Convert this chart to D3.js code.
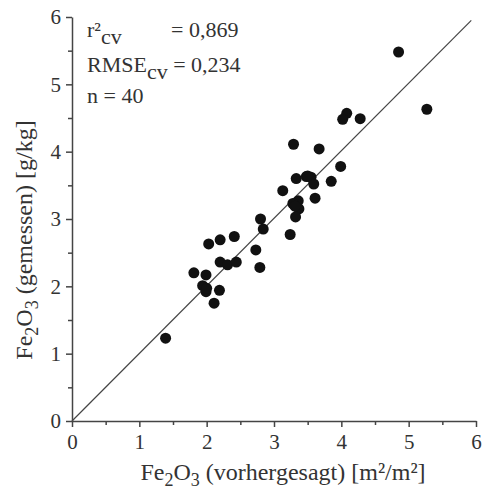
<!DOCTYPE html>
<html>
<head>
<meta charset="utf-8">
<script src="https://cdn.jsdelivr.net/npm/d3@7"></script>
<style>
  body { margin: 0; background: #fff; }
  text { font-family: "Liberation Serif", "DejaVu Serif", serif; fill: #333; }
</style>
</head>
<body>
<script>
// predicted vs measured Fe2O3
var predicted = [4.85, 5.27, 4.08, 4.02, 4.28, 3.29, 3.67, 3.99, 3.33, 3.48, 3.55, 3.59,
  3.85, 3.13, 3.61, 3.36, 3.28, 3.37, 3.32, 2.80, 2.84, 3.24, 2.03, 2.20, 2.41, 2.73,
  2.20, 2.31, 2.44, 2.79, 1.81, 1.99, 1.94, 1.99, 2.19, 2.11, 1.39, 3.31, 3.50, 2.00];
var measured = [5.48, 4.63, 4.57, 4.48, 4.49, 4.11, 4.04, 3.78, 3.60, 3.63, 3.62, 3.52,
  3.56, 3.42, 3.31, 3.27, 3.23, 3.15, 3.03, 3.00, 2.85, 2.77, 2.63, 2.69, 2.74, 2.54,
  2.36, 2.32, 2.36, 2.28, 2.20, 2.17, 2.01, 1.92, 1.94, 1.75, 1.23, 3.19, 3.64, 1.97];
var majorTicks = [0, 1, 2, 3, 4, 5, 6];
var minorTicks = [0.5, 1.5, 2.5, 3.5, 4.5, 5.5];

var margin = {left: 72, right: 8, top: 17, bottom: 71},
    width = 484 - margin.left - margin.right,
    height = 492 - margin.top - margin.bottom;

var svg = d3.select("body").append("svg")
    .attr("width", 484)
    .attr("height", 492);

var g = svg.append("g")
    .attr("transform", "translate(" + margin.left + "," + margin.top + ")");

var x = d3.scaleLinear().domain([0, 6]).range([0, width]);
var y = d3.scaleLinear().domain([0, 6]).range([height, 0]);

// minor ticks
g.append("g")
    .attr("transform", "translate(0," + height + ")")
    .call(d3.axisBottom(x).tickValues(minorTicks).tickSize(4).tickFormat(""))
    .call(function(a) { a.select(".domain").remove(); });
g.append("g")
    .call(d3.axisLeft(y).tickValues(minorTicks).tickSize(4).tickFormat(""))
    .call(function(a) { a.select(".domain").remove(); });

// major axes
var xAxis = g.append("g")
    .attr("transform", "translate(0," + height + ")")
    .call(d3.axisBottom(x).tickValues(majorTicks).tickFormat(d3.format("d"))
      .tickSize(6).tickSizeOuter(0).tickPadding(4));
var yAxis = g.append("g")
    .call(d3.axisLeft(y).tickValues(majorTicks).tickFormat(d3.format("d"))
      .tickSize(6).tickSizeOuter(0).tickPadding(5));

g.selectAll("g").attr("font-family", "Liberation Serif");
g.selectAll(".tick text").style("font-size", "21px").attr("fill", "#333");
g.selectAll(".domain, .tick line").attr("stroke", "#444").attr("stroke-width", 1.5);
xAxis.selectAll(".tick text").attr("dy", "0.85em");

// 1:1 line
g.append("line")
    .attr("x1", x(0)).attr("y1", y(0))
    .attr("x2", x(5.93)).attr("y2", y(5.95))
    .attr("stroke", "#444")
    .attr("stroke-width", 1.2);

// points
g.selectAll("circle")
    .data(predicted)
  .enter().append("circle")
    .attr("cx", function(d) { return x(d); })
    .attr("cy", function(d, i) { return y(measured[i]); })
    .attr("r", 5.5)
    .attr("fill", "#111");

// statistics
var stats = g.append("g").style("font-size", "22px");
var t1 = stats.append("text").attr("x", 15).attr("y", 20);
t1.append("tspan").text("r²");
t1.append("tspan").attr("dy", 7).text("cv");
stats.append("text").attr("x", 99).attr("y", 20).text("= 0,869");
var t2 = stats.append("text").attr("x", 15).attr("y", 55);
t2.append("tspan").text("RMSE");
t2.append("tspan").attr("dy", 7).text("cv");
t2.append("tspan").attr("dy", -7).text(" = 0,234");
stats.append("text").attr("x", 15).attr("y", 86).text("n = 40");

// axis labels
var xl = svg.append("text")
    .attr("x", 283).attr("y", 480)
    .attr("text-anchor", "middle")
    .style("font-size", "24px");
xl.append("tspan").text("Fe");
xl.append("tspan").attr("dy", 6).style("font-size", "18px").text("2");
xl.append("tspan").attr("dy", -6).text("O");
xl.append("tspan").attr("dy", 6).style("font-size", "18px").text("3");
xl.append("tspan").attr("dy", -6).text(" (vorhergesagt) [m²/m²]");

var yl = svg.append("text")
    .attr("transform", "translate(32,240) rotate(-90)")
    .attr("text-anchor", "middle")
    .style("font-size", "24px");
yl.append("tspan").text("Fe");
yl.append("tspan").attr("dy", 6).style("font-size", "18px").text("2");
yl.append("tspan").attr("dy", -6).text("O");
yl.append("tspan").attr("dy", 6).style("font-size", "18px").text("3");
yl.append("tspan").attr("dy", -6).text(" (gemessen) [g/kg]");
</script>
</body>
</html>
